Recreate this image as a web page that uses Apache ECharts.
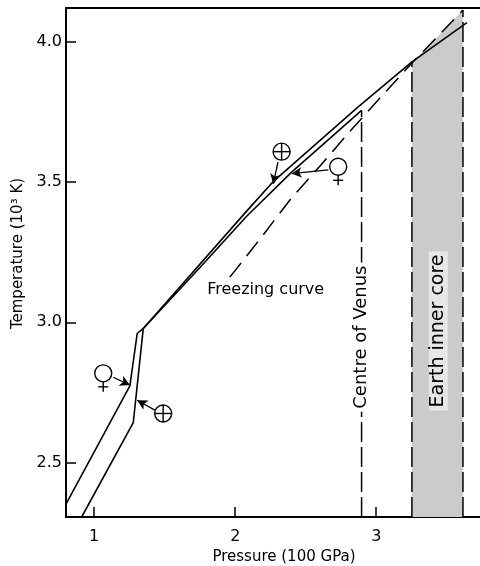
<!DOCTYPE html>
<html>
<head>
<meta charset="utf-8">
<script src="https://cdn.jsdelivr.net/npm/echarts@6/dist/echarts.min.js"></script>
<style>
html,body{margin:0;padding:0;background:#fff}
#container{width:480px;height:566px}
</style>
</head>
<body>
<div id="container"></div>
<script>
// axes: pressure (100 GPa) and temperature (10^3 K)
var xMin = 0.8, xMax = 3.75;
var yMin = 2.306, yMax = 4.12;
var xTicks = [1, 2, 3];
var yTicks = [2.5, 3.0, 3.5, 4.0];

// curves as [pressure, temperature]
var earthCurve = [[0.911,2.306],[1.277,2.642],[1.348,2.978],[2.081,3.396],[2.267,3.500],[2.870,3.767],[3.253,3.928],[3.643,4.068]];
var venusCurve = [[0.797,2.349],[1.253,2.773],[1.305,2.960],[1.348,2.978],[1.75,3.195],[2.081,3.378],[2.40,3.535],[2.896,3.755]];
var freezingCurve = [[1.962,3.161],[2.175,3.296],[2.388,3.436],[2.600,3.556],[2.813,3.680],[3.026,3.799],[3.253,3.924],[3.452,4.027],[3.615,4.113]];

// centre of Venus and earth inner core
var venusCentre = 2.896, venusCentreTop = 3.755;
var coreLeft = 3.253, coreRight = 3.615;

// planet symbols [p, T] and arrows [from, to]
var venusSymbols = [[1.064,2.818],[2.730,3.554]];
var earthSymbols = [[1.489,2.675],[2.329,3.608]];
var arrows = [
	[[1.135,2.804],[1.253,2.776]],
	[[1.430,2.687],[1.305,2.722]],
	[[2.303,3.571],[2.270,3.493]],
	[[2.660,3.543],[2.400,3.530]]
];

// text labels [p, T] (centre of text)
var freezingLabel = [2.216, 3.115];
var venusLabel = [venusCentre, 2.947];
var coreLabel = [3.440, 2.969];

var font = 'DejaVu Sans';

var coreTop = [];
for (var i = 0; i < freezingCurve.length; i++) {
	if (freezingCurve[i][0] >= coreLeft && freezingCurve[i][0] <= coreRight) coreTop.push(freezingCurve[i]);
}

function solid(name, data) {
	return {name: name, type: 'line', data: data, symbol: 'none', z: 5,
		lineStyle: {color: '#000', width: 1.6}};
}
function dashed(name, data, dash, z) {
	return {name: name, type: 'line', data: data, symbol: 'none', z: z || 4,
		lineStyle: {color: '#000', width: 1.5, type: dash}};
}
function glyphSeries(name, data, isVenus) {
	return {
		name: name, type: 'custom', data: data, z: 8,
		renderItem: function (params, api) {
			var c = api.coord([api.value(0), api.value(1)]);
			var r = 8.5, st = {stroke: '#000', fill: '#fff', lineWidth: 1.4};
			var kids = [{type: 'circle', shape: {cx: c[0], cy: c[1], r: r}, style: st}];
			if (isVenus) {
				kids.push({type: 'line', shape: {x1: c[0], y1: c[1] + r, x2: c[0], y2: c[1] + r + 10}, style: st});
				kids.push({type: 'line', shape: {x1: c[0] - 5, y1: c[1] + r + 5, x2: c[0] + 5, y2: c[1] + r + 5}, style: st});
			} else {
				kids.push({type: 'line', shape: {x1: c[0] - r, y1: c[1], x2: c[0] + r, y2: c[1]}, style: st});
				kids.push({type: 'line', shape: {x1: c[0], y1: c[1] - r, x2: c[0], y2: c[1] + r}, style: st});
			}
			return {type: 'group', children: kids};
		}
	};
}
function textSeries(name, pos, text, rotate, size, bg) {
	return {
		name: name, type: 'scatter', data: [pos], symbolSize: 0, z: 9,
		itemStyle: {color: '#000', opacity: 1},
		label: {show: true, position: 'inside', formatter: text, rotate: rotate,
			color: '#000', opacity: 1, textBorderWidth: 0, fontFamily: font, fontSize: size,
			backgroundColor: bg, padding: [0, 3]}
	};
}

var arrowLines = [];
for (var j = 0; j < arrows.length; j++) {
	arrowLines.push([{coord: arrows[j][0]}, {coord: arrows[j][1]}]);
}

var option = {
	animation: false,
	grid: {left: 66, right: -2, top: 8, bottom: 49, outerBoundsMode: 'none', containLabel: false},
	xAxis: [{
		type: 'value', min: xMin, max: xMax,
		name: 'Pressure (100 GPa)', nameLocation: 'middle', nameGap: 30,
		nameTextStyle: {color: '#000', fontFamily: font, fontSize: 15, padding: [0, 0, 0, 20]},
		axisLine: {onZero: false, lineStyle: {color: '#000', width: 2}},
		axisTick: {inside: true, length: 10, customValues: xTicks, lineStyle: {color: '#000', width: 1.5}},
		axisLabel: {customValues: xTicks, margin: 12, color: '#000', fontFamily: font, fontSize: 16},
		splitLine: {show: false}
	}, {
		type: 'value', position: 'top', min: xMin, max: xMax,
		axisLine: {onZero: false, lineStyle: {color: '#000', width: 2}},
		axisTick: {show: false}, axisLabel: {show: false}, splitLine: {show: false}
	}],
	yAxis: {
		type: 'value', min: yMin, max: yMax,
		name: 'Temperature (10³ K)', nameLocation: 'middle', nameGap: 32,
		nameTextStyle: {color: '#000', fontFamily: font, fontSize: 15, padding: [0, 0, 0, 18]},
		axisLine: {onZero: false, lineStyle: {color: '#000', width: 2}},
		axisTick: {inside: true, length: 10, customValues: yTicks, lineStyle: {color: '#000', width: 1.5}},
		axisLabel: {customValues: yTicks, margin: 4, color: '#000', fontFamily: font, fontSize: 16,
			formatter: function (v) { return v.toFixed(1); }},
		splitLine: {show: false}
	},
	series: [
		{name: 'core', type: 'line', data: coreTop, symbol: 'none', z: 1,
			lineStyle: {width: 0}, areaStyle: {color: '#cbcbcb', origin: 'start', opacity: 1}},
		dashed('coreLeft', [[coreLeft, yMin], [coreLeft, coreTop[0][1]]], [20, 5]),
		dashed('coreRight', [[coreRight, yMin], [coreRight, coreTop[coreTop.length - 1][1]]], [20, 5]),
		dashed('venusCentre', [[venusCentre, yMin], [venusCentre, venusCentreTop]], [20, 5]),
		dashed('freezing', freezingCurve, [18, 9], 6),
		solid('earth', earthCurve),
		solid('venus', venusCurve),
		{name: 'arrows', type: 'line', data: [], markLine: {
			silent: true, symbol: ['none', 'arrow'], symbolSize: [8, 10],
			label: {show: false}, lineStyle: {color: '#000', width: 1.3, type: 'solid'},
			data: arrowLines}},
		glyphSeries('venusSym', venusSymbols, true),
		glyphSeries('earthSym', earthSymbols, false),
		textSeries('freezingLabel', freezingLabel, 'Freezing curve', 0, 16, null),
		textSeries('venusLabel', venusLabel, 'Centre of Venus', 90, 18, '#fff'),
		textSeries('coreLabel', coreLabel, 'Earth inner core', 90, 19, 'rgba(255,255,255,0.55)')
	]
};
var chart = echarts.init(document.getElementById('container'));
chart.setOption(option);
</script>
</body>
</html>
